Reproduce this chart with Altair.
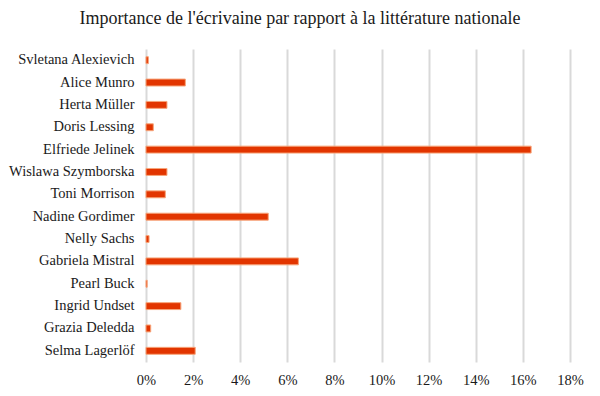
import altair as alt
import pandas as pd

writers = ["Svletana Alexievich", "Alice Munro", "Herta Müller", "Doris Lessing",
           "Elfriede Jelinek", "Wislawa Szymborska\u00a0", "Toni Morrison", "Nadine Gordimer",
           "Nelly Sachs", "Gabriela Mistral", "Pearl Buck", "Ingrid Undset",
           "Grazia Deledda", "Selma Lagerlöf"]
share = [0.0010, 0.0167, 0.0089, 0.0031, 0.1635, 0.0089, 0.0082, 0.0519,
         0.0013, 0.0647, 0.0005, 0.0148, 0.0020, 0.0209]
ticks = [0, 0.02, 0.04, 0.06, 0.08, 0.10, 0.12, 0.14, 0.16, 0.18]

df = pd.DataFrame({"writer": writers, "share": share})

font = "Liberation Serif"

chart = alt.Chart(df).mark_bar(
    color="#E23500", stroke="#F7A57A", strokeWidth=1
).encode(
    x=alt.X("share:Q", scale=alt.Scale(domain=[0, 0.18], nice=False),
            axis=alt.Axis(values=ticks, format=".0%", title=None, grid=True,
                          gridColor="#D9D9D9", gridWidth=2, domain=False,
                          ticks=False, labelPadding=11, labelFontSize=14.5,
                          labelFlush=False, labelOverlap=False,
                          labelFont=font, labelColor="#1a1a1a")),
    y=alt.Y("writer:N", sort=writers,
            scale=alt.Scale(paddingInner=0.69, paddingOuter=0.345),
            axis=alt.Axis(title=None, domain=False, ticks=False, grid=False,
                          labelPadding=12, labelFontSize=14.5, labelFont=font,
                          labelColor="#1a1a1a")),
).properties(
    width=424, height=313,
    title=alt.TitleParams("Importance  de l'écrivaine par rapport à la littérature nationale",
                          font=font, fontSize=18, fontWeight="normal",
                          color="#1a1a1a", offset=21, dx=-58),
    autosize=alt.AutoSizeParams(type="none"),
    padding={"left": 138, "top": 41, "right": 22, "bottom": 26},
).configure_view(stroke=None)

chart.save("out.html", embed_options={"renderer": "svg", "actions": False})
